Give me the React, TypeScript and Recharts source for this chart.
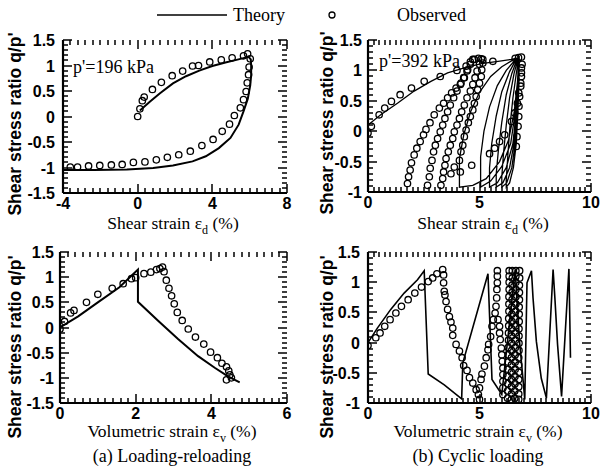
import { ScatterChart, Scatter, XAxis, YAxis } from "recharts";

type Pt = [number, number];
const rows = (pts: Pt[]) => pts.map(([x, y]) => ({ x, y }));

// (a) loading-reloading, shear strain
const aShearTheory: Pt[] = [
  [0.12, 0.12], [0.65, 0.29], [1.18, 0.45], [1.89, 0.65], [2.59, 0.79], [3.3, 0.9], [4.0, 0.99],
  [4.7, 1.06], [5.4, 1.12], [5.94, 1.17], [6.06, 1.12], [6.08, 1.0], [6.08, 0.81], [6.03, 0.61],
  [5.9, 0.35], [5.67, 0.1], [5.41, -0.16], [4.97, -0.42], [4.35, -0.62], [3.65, -0.78], [2.94, -0.88],
  [1.89, -0.96], [0.83, -1.01], [-0.58, -1.04], [-2.34, -1.05], [-4.0, -1.05],
];
const aShearObserved: Pt[] = [
  [0, 0], [0.12, 0.15], [0.25, 0.31], [0.35, 0.38], [0.79, 0.53], [1.27, 0.67], [1.85, 0.8],
  [2.41, 0.89], [2.94, 0.99], [3.26, 1.0], [3.86, 1.07], [4.48, 1.11], [5.06, 1.15], [5.67, 1.19],
  [5.89, 1.23], [6.03, 1.13], [5.97, 0.97], [5.94, 0.82], [5.87, 0.66], [5.81, 0.49], [5.67, 0.33],
  [5.5, 0.17], [5.18, 0.02], [4.92, -0.15], [4.53, -0.29], [4.04, -0.45], [3.44, -0.57], [2.82, -0.68],
  [2.2, -0.75], [1.59, -0.8], [1.0, -0.85], [0.39, -0.89], [-0.23, -0.9], [-0.83, -0.94], [-1.41, -0.95],
  [-2.03, -0.96], [-2.63, -0.97], [-3.22, -0.99], [-3.61, -0.99],
];

// (b) cyclic loading, shear strain
const bShearTheory: Pt[] = [
  [0, 0.1], [0.57, 0.27], [1.32, 0.46], [2.07, 0.66], [2.82, 0.82], [3.57, 0.96], [4.32, 1.04],
  [5.08, 1.11], [5.83, 1.15], [6.43, 1.18], [6.78, 1.21],
  [6.7, 0.8], [6.55, 0.3], [6.3, -0.15], [5.9, -0.5], [5.3, -0.78], [4.7, -0.89], [4.1, -0.92],
  [4.1, -0.45], [4.3, -0.05], [4.6, 0.32], [5.0, 0.64], [5.5, 0.9], [6.0, 1.06], [6.45, 1.16], [6.78, 1.21],
  [6.72, 0.8], [6.6, 0.3], [6.4, -0.2], [6.0, -0.58], [5.5, -0.82], [5.05, -0.92],
  [5.05, -0.42], [5.2, 0.0], [5.45, 0.4], [5.8, 0.75], [6.2, 1.0], [6.55, 1.15], [6.78, 1.21],
  [6.74, 0.8], [6.65, 0.3], [6.5, -0.2], [6.2, -0.6], [5.8, -0.85], [5.45, -0.92],
  [5.45, -0.6], [5.55, -0.2], [5.75, 0.25], [6.0, 0.65], [6.35, 0.98], [6.6, 1.15], [6.78, 1.21],
  [6.75, 0.8], [6.68, 0.3], [6.55, -0.2], [6.35, -0.6], [6.05, -0.85], [5.75, -0.92],
  [5.75, -0.7], [5.85, -0.3], [6.0, 0.15], [6.2, 0.6], [6.45, 0.95], [6.65, 1.15], [6.78, 1.21],
  [6.76, 0.8], [6.7, 0.3], [6.6, -0.2], [6.45, -0.6], [6.22, -0.85], [6.0, -0.92],
  [6.0, -0.75], [6.08, -0.35], [6.2, 0.1], [6.35, 0.55], [6.55, 0.95], [6.7, 1.15], [6.78, 1.21],
  [6.77, 0.8], [6.72, 0.3], [6.65, -0.2], [6.52, -0.6], [6.35, -0.85], [6.2, -0.92],
  [6.2, -0.8], [6.27, -0.4], [6.37, 0.1], [6.5, 0.55], [6.65, 0.95], [6.74, 1.15], [6.78, 1.21],
];
const bShearObserved: Pt[] = [
  [0, -0.03], [0.15, 0.08], [0.5, 0.27], [0.75, 0.38], [1.05, 0.49], [1.44, 0.6], [1.95, 0.71],
  [2.52, 0.82], [3.24, 0.9], [3.99, 1.0], [4.4, 1.07], [4.59, 1.14], [4.77, 1.18], [4.95, 1.2],
  [5.15, 1.18], [5.6, 1.15], [6.6, 1.2], [6.75, 1.21], [6.88, 1.22],
  [4.47, 1.01], [4.32, 0.88], [4.17, 0.79], [3.95, 0.71], [3.75, 0.63], [3.57, 0.55], [3.39, 0.46],
  [3.2, 0.38], [2.97, 0.27], [2.78, 0.14], [2.6, 0.03], [2.49, -0.06], [2.34, -0.17], [2.19, -0.28],
  [2.07, -0.39], [1.95, -0.52], [1.89, -0.64], [1.82, -0.75], [1.77, -0.86],
  [2.67, -0.89], [2.75, -0.75], [2.79, -0.61], [2.87, -0.48], [2.94, -0.34], [3.02, -0.23], [3.12, -0.12],
  [3.24, -0.01], [3.35, 0.1], [3.45, 0.21], [3.57, 0.32], [3.69, 0.43], [3.84, 0.55], [3.99, 0.66],
  [4.14, 0.77], [4.29, 0.88], [4.44, 0.99], [4.59, 1.1], [4.7, 1.18],
  [3.27, -0.89], [3.35, -0.78], [3.39, -0.67], [3.45, -0.56], [3.5, -0.45], [3.6, -0.34], [3.69, -0.23],
  [3.8, -0.12], [3.87, -0.01], [3.99, 0.1], [4.1, 0.21], [4.2, 0.32], [4.32, 0.43], [4.44, 0.55],
  [4.59, 0.66], [4.7, 0.77], [4.8, 0.88], [4.89, 0.99], [5.0, 1.1], [5.08, 1.19],
  [3.72, -0.7], [3.87, -0.59], [4.1, -0.48], [4.17, -0.34], [4.25, -0.23], [4.32, -0.09], [4.4, 0.02],
  [4.5, 0.14], [4.59, 0.24], [4.7, 0.35], [4.77, 0.46], [4.85, 0.57], [4.92, 0.68], [5.0, 0.79],
  [5.08, 0.9], [5.1, 1.01], [5.15, 1.12],
  [4.14, -0.67], [4.65, -0.56], [5.45, -0.37], [5.68, -0.28], [5.9, -0.17], [6.13, -0.06], [6.43, 0.16],
  [6.58, 0.3], [6.7, 0.46], [6.76, 0.63], [6.85, 0.79], [6.88, 0.96], [6.91, 1.1],
  [6.65, -0.25], [6.68, -0.09], [6.73, 0.08], [6.76, 0.24], [6.77, 0.41], [6.8, 0.57], [6.85, 0.74],
  [6.88, 0.9], [6.88, 1.04],
];

// (a) loading-reloading, volumetric strain
const aVolTheory: Pt[] = [
  [0, 0], [0.48, 0.22], [1.0, 0.5], [1.57, 0.8], [2.06, 1.15], [2.06, 0.51], [2.6, 0.13],
  [3.12, -0.23], [3.65, -0.57], [4.09, -0.8], [4.44, -0.97], [4.75, -1.09],
];
const aVolObserved: Pt[] = [
  [0, -0.03], [0.12, 0.12], [0.28, 0.29], [0.37, 0.34], [0.7, 0.5], [1.0, 0.66], [1.38, 0.78],
  [1.67, 0.87], [1.89, 0.97], [2.0, 0.99], [2.22, 1.07], [2.4, 1.1], [2.55, 1.15], [2.64, 1.17],
  [2.71, 1.2], [2.75, 1.11], [2.81, 0.94], [2.88, 0.78], [2.95, 0.63], [3.02, 0.47], [3.1, 0.3],
  [3.23, 0.14], [3.39, -0.03], [3.58, -0.19], [3.8, -0.33], [3.98, -0.49], [4.16, -0.6], [4.28, -0.71],
  [4.4, -0.78], [4.46, -0.86], [4.49, -0.94], [4.4, -1.04], [4.53, -1.0],
];

// (b) cyclic loading, volumetric strain
const bVolTheory: Pt[] = [
  [0, 0], [0.42, 0.24], [1.02, 0.55], [1.62, 0.82], [2.22, 1.04], [2.52, 1.19], [2.7, -0.52],
  [3.42, -0.7], [4.2, -0.93], [4.25, -0.34], [5.38, 1.14], [5.56, -0.61], [6.0, -0.86],
  [6.6, 1.2], [6.68, 0.7], [6.8, 0.0], [6.9, -0.4], [7.03, -0.94], [7.13, 0.99], [7.33, 1.19],
  [7.4, 0.74], [7.55, 0.02], [7.77, -0.59], [8.0, -0.92], [8.3, 1.21], [8.38, 0.74], [8.5, -0.03],
  [8.68, -0.89], [9.01, 1.22], [9.08, -0.25],
];
const bVolObserved: Pt[] = [
  [0, -0.05], [0.35, 0.08], [0.54, 0.16], [0.75, 0.27], [0.99, 0.38], [1.25, 0.49], [1.5, 0.6],
  [1.8, 0.71], [2.1, 0.82], [2.4, 0.92], [2.7, 1.01], [2.9, 1.07], [3.09, 1.14], [3.35, 1.21],
  [3.39, 1.12], [3.39, 0.99], [3.42, 0.85], [3.45, 0.79], [3.5, 0.68], [3.57, 0.55], [3.65, 0.43],
  [3.72, 0.34], [3.8, 0.24], [3.8, 0.12], [3.95, -0.03], [4.1, -0.14], [4.22, -0.25], [4.29, -0.38],
  [4.44, -0.46], [4.55, -0.58], [4.7, -0.67], [4.85, -0.78], [4.95, -0.86], [5.0, -0.94],
  [5.0, -0.75], [5.07, -0.61], [5.11, -0.52], [5.22, -0.39], [5.3, -0.25], [5.38, -0.12], [5.41, -0.03],
  [5.5, 0.1], [5.56, 0.27], [5.62, 0.38], [5.7, 0.49], [5.74, 0.6], [5.77, 0.74], [5.78, 0.88],
  [5.8, 0.99], [5.8, 1.1], [5.8, 1.19],
  [5.83, 0.38], [5.9, 0.27], [5.9, 0.16], [5.93, 0.05], [5.98, -0.09], [6.0, -0.2], [6.02, -0.31],
  [6.05, -0.42], [6.05, -0.53], [6.05, -0.64], [6.05, -0.75], [6.05, -0.86],
  [6.26, -0.92], [6.26, -0.8], [6.27, -0.68], [6.27, -0.56], [6.28, -0.44], [6.28, -0.32], [6.29, -0.2],
  [6.29, -0.08], [6.3, 0.04], [6.3, 0.16], [6.31, 0.28], [6.31, 0.4], [6.32, 0.52], [6.32, 0.64],
  [6.32, 0.76], [6.33, 0.88], [6.33, 1.0], [6.33, 1.1], [6.33, 1.19],
  [6.47, 1.19], [6.47, 1.07], [6.46, 0.95], [6.46, 0.83], [6.46, 0.71], [6.45, 0.59], [6.45, 0.47],
  [6.45, 0.35], [6.44, 0.23], [6.44, 0.11], [6.44, -0.01], [6.44, -0.13], [6.43, -0.25], [6.43, -0.37],
  [6.43, -0.49], [6.43, -0.61], [6.43, -0.73], [6.43, -0.85], [6.43, -0.94],
  [6.58, -0.92], [6.58, -0.8], [6.59, -0.68], [6.59, -0.56], [6.6, -0.44], [6.6, -0.32], [6.6, -0.2],
  [6.61, -0.08], [6.61, 0.04], [6.61, 0.16], [6.62, 0.28], [6.62, 0.4], [6.62, 0.52], [6.63, 0.64],
  [6.63, 0.76], [6.63, 0.88], [6.63, 1.0], [6.63, 1.1], [6.63, 1.19],
  [6.8, 1.19], [6.8, 1.07], [6.79, 0.95], [6.79, 0.83], [6.79, 0.71], [6.78, 0.59], [6.78, 0.47],
  [6.78, 0.35], [6.77, 0.23], [6.77, 0.11], [6.77, -0.01], [6.77, -0.13], [6.76, -0.25], [6.76, -0.37],
  [6.76, -0.49], [6.76, -0.61], [6.76, -0.73], [6.76, -0.85], [6.76, -0.94],
];

const aShearX = [-4, 0, 4, 8];
const tenX = [0, 5, 10];
const sixX = [0, 2, 4, 6];
const fullY = [-1.5, -1, -0.5, 0, 0.5, 1, 1.5];
const cutY = [-1, -0.5, 0, 0.5, 1, 1.5];

const sans = "'Liberation Sans', Arial, sans-serif";
const serif = "'Liberation Serif', 'Times New Roman', serif";

function stepTicks(lo: number, hi: number, step: number) {
  const out: number[] = [];
  const n = Math.round((hi - lo) / step);
  for (let i = 0; i <= n; i++) out.push(Math.round((lo + i * step) * 1000) / 1000);
  return out;
}
const isMajor = (majors: number[], v: number) => majors.some((m) => Math.abs(m - v) < 1e-6);

function labelTick(side: "bottom" | "left", gap: number) {
  return (props: any) => {
    const x = Number(props.x);
    const y = Number(props.y);
    const v = props.payload?.value;
    return side === "bottom" ? (
      <text x={x} y={y + gap} textAnchor="middle" fontFamily={sans} fontWeight="bold" fontSize={16} fill="#000">{v}</text>
    ) : (
      <text x={x - gap} y={y + 6} textAnchor="end" fontFamily={sans} fontWeight="bold" fontSize={16} fill="#000">{v}</text>
    );
  };
}

const Ring = (p: any) => <circle cx={p.cx} cy={p.cy} r={3.2} fill="none" stroke="#000" strokeWidth={1.3} />;
const Nothing = () => <g />;

type PanelCfg = {
  fx: number; fy: number; fw: number; fh: number;
  xDomain: [number, number]; yDomain: [number, number];
  xMajor: number[]; yMajor: number[]; xStep: number; yStep: number;
  theory: Pt[]; observed: Pt[]; lineWidth: number; yGap: number;
};

const PAD_L = 50;
const PAD_T = 12;
const PAD_R = 12;
const PAD_B = 25;

function Panel(p: PanelCfg) {
  const frame = { stroke: "#000", strokeWidth: 2.2 };
  return (
    <div style={{ position: "absolute", left: p.fx - PAD_L, top: p.fy - PAD_T }}>
      <ScatterChart width={p.fw + PAD_L + PAD_R} height={p.fh + PAD_T + PAD_B} margin={{ top: PAD_T, right: PAD_R, bottom: 0, left: 0 }}>
        <XAxis xAxisId="b" type="number" dataKey="x" domain={p.xDomain} ticks={p.xMajor} interval={0} allowDataOverflow
          height={PAD_B} tickSize={0} tickMargin={0} tickLine={false} axisLine={frame} tick={labelTick("bottom", 16)} />
        <XAxis xAxisId="t" orientation="top" type="number" dataKey="x" domain={p.xDomain} ticks={p.xMajor} allowDataOverflow
          height={0} tickLine={false} axisLine={frame} tick={false} />
        <YAxis yAxisId="l" type="number" dataKey="y" domain={p.yDomain} ticks={p.yMajor} interval={0} allowDataOverflow
          width={PAD_L} tickSize={0} tickMargin={0} tickLine={false} axisLine={frame} tick={labelTick("left", p.yGap)} />
        <YAxis yAxisId="r" orientation="right" type="number" dataKey="y" domain={p.yDomain} ticks={p.yMajor} allowDataOverflow
          width={0} tickLine={false} axisLine={frame} tick={false} />
        <Scatter xAxisId="b" yAxisId="l" data={rows(p.theory)} fill="none" line={{ stroke: "#000", strokeWidth: p.lineWidth, fill: "none" }}
          lineType="joint" shape={Nothing} legendType="none" isAnimationActive={false} />
        <Scatter xAxisId="b" yAxisId="l" data={rows(p.observed)} shape={Ring} legendType="none" isAnimationActive={false} />
      </ScatterChart>
    </div>
  );
}

// inward minor/major tick marks along all four sides of a panel frame
function FrameTicks({ p }: { p: PanelCfg }) {
  const [x0, x1] = p.xDomain;
  const [y0, y1] = p.yDomain;
  const px = (x: number) => p.fx + ((x - x0) / (x1 - x0)) * p.fw;
  const py = (y: number) => p.fy + p.fh - ((y - y0) / (y1 - y0)) * p.fh;
  const bottom = p.fy + p.fh;
  const right = p.fx + p.fw;
  let d = "";
  for (const x of stepTicks(x0, x1, p.xStep)) {
    const len = isMajor(p.xMajor, x) ? 9 : 5;
    const X = Math.round(px(x));
    d += `M${X},${bottom}v${-len}M${X},${p.fy}v${len}`;
  }
  for (const y of stepTicks(y0, y1, p.yStep)) {
    const len = isMajor(p.yMajor, y) ? 9 : 5;
    const Y = Math.round(py(y));
    d += `M${p.fx},${Y}h${len}M${right},${Y}h${-len}`;
  }
  return <path d={d} stroke="#000" strokeWidth={1.5} fill="none" />;
}

const panels: PanelCfg[] = [
  { fx: 63, fy: 40, fw: 224, fh: 153, xDomain: [-4, 8], yDomain: [-1.5, 1.5], xMajor: aShearX, yMajor: fullY,
    xStep: 0.4, yStep: 0.1, theory: aShearTheory, observed: aShearObserved, lineWidth: 2, yGap: 8 },
  { fx: 368, fy: 40, fw: 223, fh: 152, xDomain: [0, 10], yDomain: [-1, 1.5], xMajor: tenX, yMajor: cutY,
    xStep: 0.25, yStep: 0.1, theory: bShearTheory, observed: bShearObserved, lineWidth: 1.3, yGap: 6 },
  { fx: 60, fy: 252, fw: 227, fh: 151, xDomain: [0, 6], yDomain: [-1.5, 1.5], xMajor: sixX, yMajor: fullY,
    xStep: 0.2, yStep: 0.1, theory: aVolTheory, observed: aVolObserved, lineWidth: 2, yGap: 6 },
  { fx: 368, fy: 252, fw: 223, fh: 151, xDomain: [0, 10], yDomain: [-1, 1.5], xMajor: tenX, yMajor: cutY,
    xStep: 0.25, yStep: 0.1, theory: bVolTheory, observed: bVolObserved, lineWidth: 1.6, yGap: 8 },
];

function YTitle({ x, y }: { x: number; y: number }) {
  return (
    <text transform={`translate(${x},${y}) rotate(-90)`} textAnchor="middle" dominantBaseline="central"
      fontFamily={sans} fontWeight="bold" fontSize={17.5} fill="#000">Shear stress ratio q/p'</text>
  );
}

function XTitle({ x, y, name, sub }: { x: number; y: number; name: string; sub: string }) {
  return (
    <text x={x} y={y} textAnchor="middle" fontFamily={serif} fontSize={17.5} fill="#000">
      {name} ε<tspan dy={5} fontSize={12}>{sub}</tspan><tspan dy={-5}> (%)</tspan>
    </text>
  );
}

export default function App() {
  return (
    <div style={{ position: "absolute", left: 0, top: 0, width: 601, height: 472, background: "#fff", overflow: "hidden" }}>
      {panels.map((p, i) => <Panel key={i} {...p} />)}
      <svg width={601} height={472} style={{ position: "absolute", left: 0, top: 0, pointerEvents: "none" }}>
        {panels.map((p, i) => <FrameTicks key={i} p={p} />)}
        <line x1={157} y1={15} x2={227} y2={15} stroke="#000" strokeWidth={1.6} />
        <text x={233} y={21} fontFamily={serif} fontSize={18} fill="#000">Theory</text>
        <circle cx={332} cy={15} r={3} fill="none" stroke="#000" strokeWidth={1.3} />
        <text x={397} y={21} fontFamily={serif} fontSize={18} fill="#000">Observed</text>
        <text x={73} y={73} fontFamily={serif} fontSize={18} fill="#000">p'=196 kPa</text>
        <text x={379} y={67} fontFamily={serif} fontSize={18} fill="#000">p'=392 kPa</text>
        <YTitle x={15} y={124} />
        <YTitle x={327} y={123} />
        <YTitle x={15} y={347} />
        <YTitle x={327} y={347} />
        <XTitle x={173} y={229} name="Shear strain" sub="d" />
        <XTitle x={483} y={229} name="Shear strain" sub="d" />
        <XTitle x={172} y={437} name="Volumetric strain" sub="v" />
        <XTitle x={478} y={437} name="Volumetric strain" sub="v" />
        <text x={172} y={462} textAnchor="middle" fontFamily={serif} fontSize={18} fill="#000">(a) Loading-reloading</text>
        <text x={478} y={462} textAnchor="middle" fontFamily={serif} fontSize={18} fill="#000">(b) Cyclic loading</text>
      </svg>
    </div>
  );
}
